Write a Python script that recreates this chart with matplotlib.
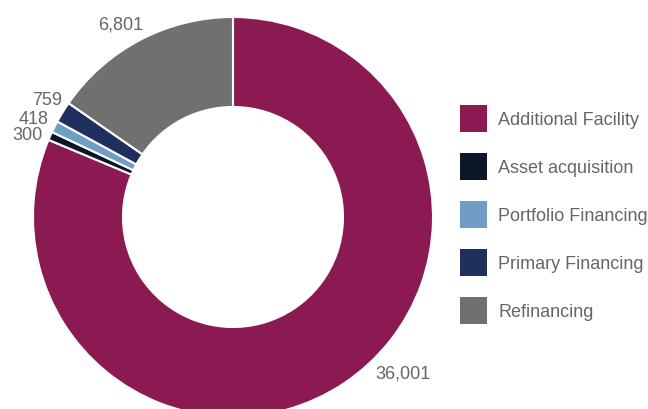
import numpy
import matplotlib
matplotlib.use('Agg')
import matplotlib.pyplot as plt

categories = ['Additional Facility', 'Asset acquisition', 'Portfolio Financing',
              'Primary Financing', 'Refinancing']
values = [36001, 300, 418, 759, 6801]
colors = ['#8b1a52', '#0b1628', '#6f9dc4', '#1f305e', '#707070']
# where each value label sits (pie radius units), and its alignment
label_pos = [(0.71, -0.78), (-0.95, 0.41), (-0.92, 0.49), (-0.855, 0.585), (-0.45, 0.965)]
label_ha = ['left', 'right', 'right', 'right', 'right']

plt.rcParams['font.family'] = ['Liberation Sans', 'DejaVu Sans']

W, H = 648, 410
fig = plt.figure(figsize=(W / 100, H / 100), dpi=100)
ax = fig.add_axes([0, 0, 1, 1])

cx, cy, R = 233, 218, 200  # pixels, from top-left
wedges, _ = ax.pie(values, colors=colors, startangle=90, counterclock=False,
                   radius=1, wedgeprops=dict(width=0.45, edgecolor='white', linewidth=1.5))

ax.set_xlim(-cx / R, (W - cx) / R)
ax.set_ylim(-(H - cy) / R, cy / R)
ax.set_aspect('equal')
ax.axis('off')

for i, v in enumerate(values):
    x, y = label_pos[i]
    ax.text(x, y, f'{v:,}', ha=label_ha[i], va='center', fontsize=13, color='#666666')

leg = fig.legend(wedges, categories, loc='upper left', bbox_to_anchor=(460 / W, 1 - 106 / H),
                 frameon=False, fontsize=13, handlelength=1.5, handleheight=1.92,
                 labelspacing=1.16, handletextpad=0.61, borderpad=0, borderaxespad=0)
for t in leg.get_texts():
    t.set_color('#666666')
for h in leg.legend_handles:
    h.set_edgecolor('none')

fig.savefig('out.png', dpi=100)
